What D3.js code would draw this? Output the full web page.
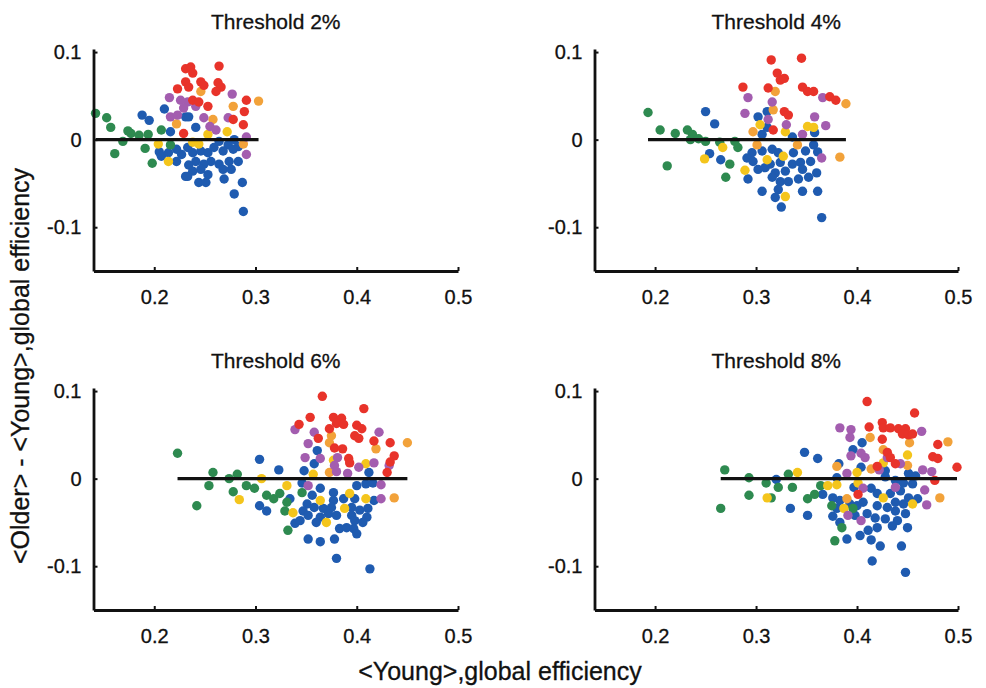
<!DOCTYPE html>
<html><head><meta charset="utf-8">
<script src="https://cdn.jsdelivr.net/npm/d3@7/dist/d3.min.js"></script>
<style>body{margin:0;background:#fff}svg{display:block}text{font-family:"Liberation Sans",Arial,sans-serif;fill:#111}</style>
</head><body>
<script>
// ---------- data ----------
const panelTitles = ["Threshold 2%", "Threshold 4%", "Threshold 6%", "Threshold 8%"];
const xTickValues = [0.2, 0.3, 0.4, 0.5];
const xTickLabels = ["0.2", "0.3", "0.4", "0.5"];
const yTickValues = [-0.1, 0, 0.1];
const yTickLabels = ["-0.1", "0", "0.1"];
const xLabel = "<Young>,global efficiency";
const yLabel = "<Older> - <Young>,global efficiency";
const groups = ["blue", "green", "yellow", "orange", "purple", "red"];

// Threshold 2%
const t2_green = [[0.142,0.030],[0.153,0.025],[0.157,0.014],[0.174,0.010],[0.177,0.007],[0.185,0.005],[0.194,0.006],[0.207,0.011],[0.169,-0.002],[0.161,-0.016],[0.191,-0.010],[0.198,-0.027],[0.216,-0.006]];
const t2_blue = [[0.188,0.028],[0.195,0.022],[0.210,0.035],[0.216,0.009],[0.231,0.026],[0.205,-0.014],[0.207,-0.019],[0.214,-0.015],[0.222,-0.011],[0.227,-0.017],[0.222,-0.025],[0.231,-0.042],[0.234,0.026],[0.241,0.014],[0.279,0.0],[0.264,-0.002],[0.273,-0.006],[0.283,-0.008],[0.233,-0.009],[0.238,-0.015],[0.246,-0.013],[0.253,-0.015],[0.259,-0.009],[0.268,-0.013],[0.278,-0.011],[0.283,-0.025],[0.274,-0.025],[0.264,-0.028],[0.268,-0.034],[0.256,-0.025],[0.249,-0.028],[0.241,-0.025],[0.234,-0.029],[0.238,-0.036],[0.246,-0.034],[0.253,-0.040],[0.276,-0.034],[0.233,-0.042],[0.244,-0.049],[0.251,-0.049],[0.269,-0.045],[0.287,-0.049],[0.279,-0.062],[0.288,-0.082]];
const t2_yellow = [[0.204,-0.005],[0.214,-0.025],[0.272,0.009],[0.253,0.006],[0.238,-0.003],[0.244,-0.005]];
const t2_orange = [[0.222,0.018],[0.246,0.055],[0.303,0.044],[0.278,0.038],[0.258,0.023],[0.288,-0.005]];
const t2_purple = [[0.215,0.048],[0.216,0.026],[0.223,0.028],[0.277,0.052],[0.241,0.038],[0.233,0.043],[0.249,0.025],[0.273,0.025],[0.255,0.015],[0.261,0.011],[0.291,0.003],[0.291,-0.017],[0.226,0.045],[0.229,0.036]];
const t2_red = [[0.223,0.058],[0.231,0.066],[0.231,0.081],[0.229,0.007],[0.236,0.083],[0.238,0.076],[0.264,0.084],[0.234,0.060],[0.246,0.066],[0.249,0.062],[0.263,0.065],[0.266,0.060],[0.261,0.055],[0.291,0.045],[0.289,0.032],[0.238,0.045],[0.244,0.043],[0.253,0.038],[0.278,0.023],[0.288,0.017]];

// Threshold 4%
const t4_green = [[0.193,0.031],[0.205,0.011],[0.220,0.007],[0.232,0.011],[0.237,0.006],[0.235,0.0],[0.243,0.001],[0.250,-0.002],[0.264,-0.003],[0.212,-0.030],[0.270,-0.043],[0.274,-0.028],[0.279,-0.002],[0.282,-0.009]];
const t4_blue = [[0.250,0.032],[0.259,0.018],[0.254,-0.016],[0.265,-0.023],[0.302,0.026],[0.311,0.032],[0.311,0.014],[0.358,0.008],[0.336,0.003],[0.306,0.006],[0.296,-0.015],[0.306,-0.013],[0.316,-0.011],[0.322,-0.015],[0.337,-0.015],[0.349,-0.013],[0.357,-0.006],[0.361,-0.014],[0.291,-0.021],[0.297,-0.025],[0.314,-0.028],[0.324,-0.026],[0.336,-0.028],[0.344,-0.026],[0.354,-0.025],[0.302,-0.034],[0.309,-0.032],[0.319,-0.038],[0.329,-0.036],[0.346,-0.034],[0.360,-0.038],[0.292,-0.045],[0.316,-0.043],[0.324,-0.048],[0.332,-0.048],[0.342,-0.045],[0.352,-0.043],[0.306,-0.059],[0.322,-0.057],[0.319,-0.066],[0.346,-0.059],[0.361,-0.059],[0.325,-0.077],[0.365,-0.089]];
const t4_yellow = [[0.249,-0.022],[0.267,-0.009],[0.304,0.017],[0.351,0.015],[0.357,0.014],[0.329,0.009],[0.327,-0.019],[0.311,-0.023],[0.289,-0.035],[0.329,-0.065]];
const t4_orange = [[0.319,0.055],[0.317,0.034],[0.297,0.009],[0.301,-0.006],[0.341,-0.006],[0.389,0.041],[0.383,-0.020]];
const t4_purple = [[0.292,0.048],[0.316,0.043],[0.289,0.030],[0.358,0.026],[0.366,0.048],[0.312,0.023],[0.330,0.017],[0.346,0.006],[0.365,-0.021],[0.369,0.016]];
const t4_red = [[0.315,0.091],[0.345,0.093],[0.321,0.076],[0.324,0.068],[0.328,0.070],[0.287,0.060],[0.312,0.059],[0.346,0.060],[0.351,0.055],[0.357,0.055],[0.328,0.032],[0.332,0.028],[0.317,0.011],[0.373,0.049],[0.379,0.045]];

// Threshold 6%
const t6_green = [[0.223,0.029],[0.258,0.007],[0.254,-0.008],[0.274,0.0],[0.282,0.005],[0.278,-0.015],[0.291,-0.008],[0.299,-0.011],[0.242,-0.031],[0.311,-0.019],[0.318,-0.023],[0.324,-0.017],[0.329,-0.037],[0.331,-0.027],[0.332,-0.059],[0.346,-0.016]];
const t6_blue = [[0.304,0.022],[0.323,0.010],[0.304,-0.031],[0.311,-0.037],[0.334,-0.023],[0.339,-0.051],[0.344,-0.048],[0.348,0.009],[0.346,-0.005],[0.361,0.032],[0.358,0.017],[0.412,0.007],[0.364,-0.011],[0.377,-0.016],[0.400,-0.008],[0.409,-0.006],[0.416,-0.005],[0.417,-0.025],[0.398,-0.023],[0.387,-0.023],[0.377,-0.025],[0.356,-0.019],[0.351,-0.029],[0.358,-0.033],[0.367,-0.034],[0.375,-0.033],[0.395,-0.033],[0.403,-0.036],[0.411,-0.034],[0.347,-0.037],[0.352,-0.042],[0.364,-0.044],[0.372,-0.040],[0.380,-0.042],[0.395,-0.042],[0.410,-0.044],[0.360,-0.050],[0.398,-0.048],[0.406,-0.050],[0.383,-0.057],[0.390,-0.056],[0.397,-0.057],[0.400,-0.063],[0.352,-0.069],[0.364,-0.072],[0.378,-0.069],[0.380,-0.091],[0.413,-0.103]];
const t6_yellow = [[0.284,-0.024],[0.331,-0.008],[0.306,0.0],[0.337,-0.039],[0.377,0.021],[0.409,0.017],[0.357,0.005],[0.393,-0.017],[0.409,-0.023],[0.364,-0.025],[0.388,-0.034],[0.370,-0.050]];
const t6_orange = [[0.375,0.049],[0.450,0.041],[0.373,0.041],[0.419,0.034],[0.373,0.007],[0.437,-0.022]];
const t6_purple = [[0.339,0.056],[0.349,0.024],[0.358,0.053],[0.422,0.053],[0.352,0.040],[0.364,0.023],[0.381,0.024],[0.378,0.015],[0.402,0.013],[0.417,0.018],[0.432,0.015],[0.380,0.008],[0.391,0.006],[0.352,-0.008],[0.424,-0.007],[0.424,-0.023]];
const t6_red = [[0.343,0.062],[0.366,0.094],[0.407,0.080],[0.354,0.070],[0.377,0.070],[0.385,0.069],[0.380,0.063],[0.387,0.062],[0.400,0.061],[0.405,0.057],[0.373,0.057],[0.398,0.049],[0.402,0.046],[0.362,0.046],[0.417,0.043],[0.433,0.041],[0.378,0.035],[0.386,0.034],[0.437,0.026],[0.392,0.023],[0.393,0.018],[0.433,0.019],[0.430,0.007]];

// Threshold 8%
const t8_green = [[0.269,0.010],[0.293,0.001],[0.293,-0.019],[0.265,-0.034],[0.310,-0.005],[0.315,-0.022],[0.322,-0.010],[0.332,0.005],[0.336,-0.010],[0.351,-0.023],[0.358,-0.018],[0.364,-0.008],[0.375,-0.031],[0.385,-0.056],[0.378,-0.071],[0.396,-0.034]];
const t8_blue = [[0.320,-0.001],[0.348,0.030],[0.361,0.023],[0.366,-0.018],[0.334,-0.034],[0.351,-0.042],[0.376,-0.022],[0.383,-0.025],[0.380,-0.034],[0.376,-0.043],[0.383,-0.050],[0.390,-0.069],[0.403,-0.065],[0.414,-0.070],[0.415,-0.094],[0.405,0.041],[0.396,0.033],[0.382,0.017],[0.404,0.013],[0.380,0.001],[0.397,-0.010],[0.414,-0.011],[0.393,-0.029],[0.400,-0.031],[0.406,-0.027],[0.398,-0.042],[0.410,-0.040],[0.411,-0.059],[0.428,0.009],[0.451,0.006],[0.458,0.003],[0.428,0.002],[0.438,-0.002],[0.455,-0.006],[0.446,-0.005],[0.443,-0.014],[0.420,-0.017],[0.433,-0.017],[0.451,-0.022],[0.460,-0.023],[0.438,-0.027],[0.446,-0.029],[0.420,-0.031],[0.430,-0.033],[0.438,-0.037],[0.448,-0.040],[0.418,-0.045],[0.428,-0.046],[0.440,-0.048],[0.450,-0.056],[0.420,-0.056],[0.435,-0.054],[0.448,-0.107],[0.444,-0.077],[0.423,-0.077]];
const t8_yellow = [[0.311,-0.022],[0.341,0.007],[0.371,-0.008],[0.380,-0.007],[0.387,-0.034],[0.400,0.007],[0.401,-0.005],[0.450,0.027],[0.426,0.018],[0.426,-0.022],[0.455,-0.029]];
const t8_orange = [[0.390,-0.023],[0.413,0.047],[0.380,0.014],[0.414,0.011],[0.452,0.041],[0.490,0.042],[0.426,0.033],[0.450,0.015],[0.482,-0.022]];
const t8_purple = [[0.383,0.058],[0.394,0.056],[0.393,0.047],[0.394,0.026],[0.404,0.029],[0.408,0.024],[0.390,0.006],[0.406,-0.011],[0.391,-0.042],[0.404,-0.048],[0.464,0.054],[0.430,0.024],[0.443,0.017],[0.422,0.010],[0.465,0.010],[0.474,0.008],[0.438,-0.010],[0.467,-0.013],[0.469,-0.030]];
const t8_red = [[0.410,0.088],[0.412,0.059],[0.401,-0.018],[0.457,0.075],[0.425,0.064],[0.426,0.058],[0.433,0.058],[0.441,0.057],[0.448,0.057],[0.445,0.051],[0.451,0.050],[0.455,0.051],[0.425,0.045],[0.480,0.039],[0.430,0.030],[0.433,0.024],[0.475,0.025],[0.480,0.023],[0.499,0.013],[0.438,0.017],[0.420,0.014],[0.477,-0.002]];

// ---------- build ----------
const panelData = [
  {blue:t2_blue, green:t2_green, yellow:t2_yellow, orange:t2_orange, purple:t2_purple, red:t2_red},
  {blue:t4_blue, green:t4_green, yellow:t4_yellow, orange:t4_orange, purple:t4_purple, red:t4_red},
  {blue:t6_blue, green:t6_green, yellow:t6_yellow, orange:t6_orange, purple:t6_purple, red:t6_red},
  {blue:t8_blue, green:t8_green, yellow:t8_yellow, orange:t8_orange, purple:t8_purple, red:t8_red}
];
const colorOf = {blue:"#1f5bb0", green:"#2e8a50", yellow:"#f4c51c", orange:"#f2a23a", purple:"#a35daf", red:"#e8332a"};

const W = 986, H = 688;
const svg = d3.select("body").append("svg").attr("width", W).attr("height", H);

const layout = [
  {x0:93.5, x1:458, y0:271, y1:49},
  {x0:594.5, x1:958, y0:271, y1:49},
  {x0:93.5, x1:458, y0:610, y1:388},
  {x0:594.5, x1:958, y0:610, y1:388}
];

layout.forEach((L, i) => {
  const x = d3.scaleLinear().domain([0.14, 0.5]).range([L.x0, L.x1]);
  const y = d3.scaleLinear().domain([-0.15, 0.1035]).range([L.y0, L.y1]);
  const g = svg.append("g");

  // points
  const all = [];
  groups.forEach(k => panelData[i][k].forEach(p => all.push({x:p[0], y:p[1], k})));
  g.append("g").selectAll("circle").data(all).join("circle")
    .attr("cx", d => x(d.x)).attr("cy", d => y(d.y)).attr("r", 4.7)
    .attr("fill", d => colorOf[d.k]);

  // zero line spanning data range
  const ext = d3.extent(all, d => d.x);
  g.append("line").attr("x1", x(ext[0])).attr("x2", x(ext[1]))
    .attr("y1", y(0)).attr("y2", y(0)).attr("stroke", "#111").attr("stroke-width", 3.3);

  // axes
  const ax = g.append("g").attr("transform", `translate(0,${L.y0})`)
    .call(d3.axisBottom(x).tickValues(xTickValues).tickFormat((d, j) => xTickLabels[j])
      .tickSizeInner(-4).tickSizeOuter(0).tickPadding(19));
  const ay = g.append("g").attr("transform", `translate(${L.x0},0)`)
    .call(d3.axisLeft(y).tickValues(yTickValues).tickFormat((d, j) => yTickLabels[j])
      .tickSizeInner(-4).tickSizeOuter(0).tickPadding(12));
  [ax, ay].forEach(a => {
    a.select(".domain").attr("stroke", "#111").attr("stroke-width", 2.8);
    a.selectAll(".tick line").attr("stroke", "#111").attr("stroke-width", 2);
    a.selectAll(".tick text").attr("font-size", 20).attr("fill", "#111")
      .attr("stroke", "#111").attr("stroke-width", 0.3)
      .style("font-family", '"Liberation Sans", Arial, sans-serif');
  });

  // title
  svg.append("text").attr("x", (L.x0 + L.x1) / 2).attr("y", L.y1 - 20)
    .attr("text-anchor", "middle").attr("font-size", 21)
    .attr("stroke", "#111").attr("stroke-width", 0.3).text(panelTitles[i]);
});

svg.append("text").attr("x", 500).attr("y", 680).attr("text-anchor", "middle")
  .attr("font-size", 25).attr("stroke", "#111").attr("stroke-width", 0.3).text(xLabel);
svg.append("text").attr("transform", "translate(29,366) rotate(-90)")
  .attr("text-anchor", "middle").attr("font-size", 25)
  .attr("stroke", "#111").attr("stroke-width", 0.3).text(yLabel);
</script>
</body></html>
